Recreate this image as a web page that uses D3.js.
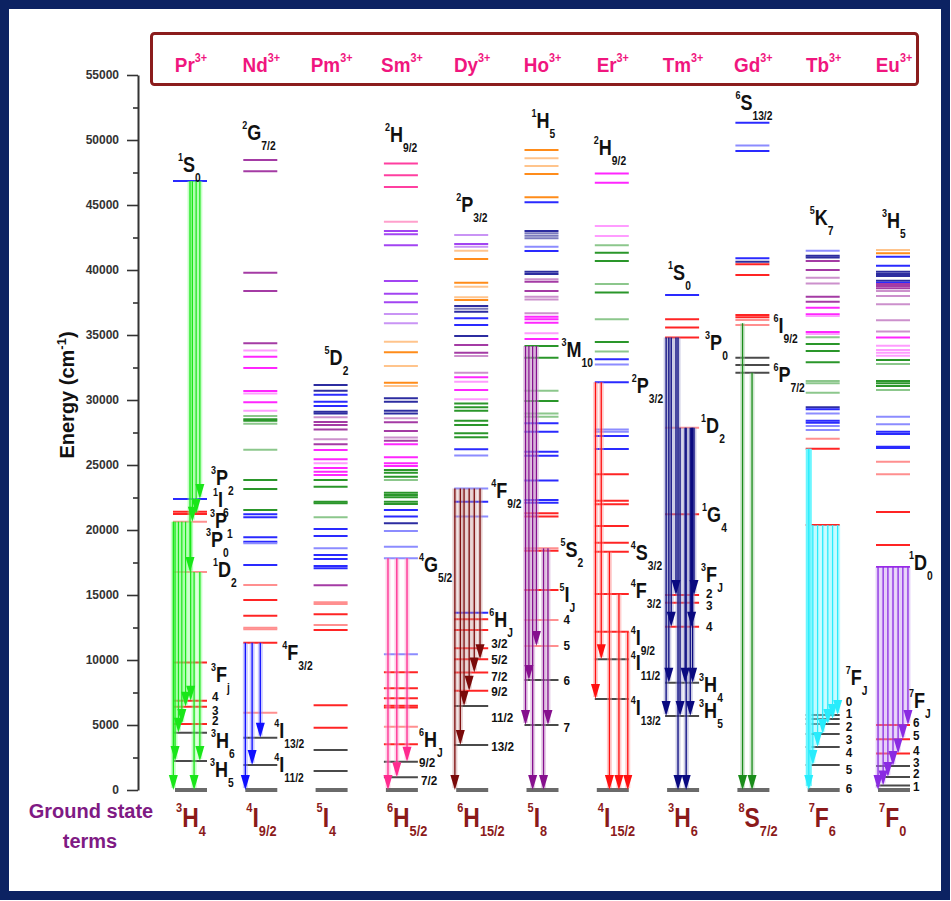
<!DOCTYPE html>
<html><head><meta charset="utf-8">
<script src="https://cdn.jsdelivr.net/npm/d3@7"></script>
<style>
html,body{margin:0;padding:0;background:#fff;}
svg{display:block;}
text{font-family:"Liberation Sans",Arial,sans-serif;font-weight:bold;}
</style></head><body>
<svg id="chart" width="951" height="901"></svg>
<script>
// ---- data ----
const ions = ["Pr","Nd","Pm","Sm","Dy","Ho","Er","Tm","Gd","Tb","Eu"];
const yTicks = d3.range(0, 55001, 5000);
const yMinorTicks = d3.range(2500, 55000, 5000);
const groundTerms = [["3","H","4"],["4","I","9/2"],["5","I","4"],["6","H","5/2"],["6","H","15/2"],["5","I","8"],["4","I","15/2"],["3","H","6"],["8","S","7/2"],["7","F","6"],["7","F","0"]];

// energy levels [cm-1, colour key]
const levelsPr = [[46850,"b"],[22380,"b"],[21400,"r"],[21230,"r"],[20640,"rl"],[16770,"rl"],[9800,"r"],[6870,"r"],[6410,"r"],[5080,"r"],[4410,"k"],[2230,"k"]];
const levelsNd = [[48460,"d"],[47590,"d"],[39790,"d"],[38380,"d"],[34360,"d"],[33800,"ml"],[33330,"m"],[32460,"m"],[30700,"m"],[30500,"ml"],[29820,"m"],[29180,"ml"],[28770,"gl"],[28510,"g"],[28400,"g"],[28180,"gl"],[26180,"gl"],[23850,"g"],[23150,"g"],[21540,"g"],[21210,"b"],[20980,"b"],[19440,"b"],[19100,"b"],[18980,"bl"],[17310,"b"],[15770,"rl"],[14620,"r"],[13410,"r"],[12490,"rl"],[12360,"rl"],[11330,"r"],[5950,"rl"],[4020,"k"],[1920,"k"]];
const levelsPm = [[31150,"n"],[30720,"n"],[30410,"b"],[29870,"b"],[29540,"b"],[29100,"n"],[28970,"n"],[28670,"dl"],[28310,"d"],[28080,"d"],[27740,"d"],[26980,"dl"],[26590,"d"],[26150,"m"],[25440,"m"],[25130,"ml"],[24770,"m"],[24490,"m"],[24230,"m"],[23850,"g"],[23330,"g"],[22180,"g"],[22050,"g"],[20980,"gl"],[20080,"b"],[19540,"b"],[18590,"bl"],[18080,"b"],[17770,"b"],[17230,"b"],[17050,"b"],[15750,"d"],[14450,"rl"],[14300,"rl"],[13520,"r"],[12690,"rl"],[12310,"r"],[6510,"r"],[4790,"r"],[3080,"k"],[1460,"k"]];
const levelsSm = [[48200,"pk"],[47280,"pk"],[46380,"pk"],[43720,"pkl"],[43000,"p"],[42750,"p"],[41900,"p"],[39150,"p"],[38180,"p"],[37510,"p"],[36620,"pl"],[35900,"pl"],[34490,"ol"],[33670,"o"],[32620,"ol"],[31330,"o"],[31080,"ol"],[30130,"n"],[29870,"n"],[29180,"n"],[28970,"n"],[28590,"dl"],[28280,"d"],[27620,"d"],[27110,"dl"],[26870,"d"],[26590,"m"],[25590,"m"],[25130,"m"],[24920,"m"],[24620,"g"],[24400,"g"],[24100,"g"],[23850,"gl"],[22870,"g"],[22690,"g"],[22510,"g"],[22180,"g"],[22000,"g"],[21540,"b"],[21030,"b"],[20510,"n"],[19920,"bl"],[18720,"bl"],[17820,"bl"],[10440,"bl"],[9050,"r"],[7820,"r"],[7050,"r"],[6480,"r"],[6350,"r"],[4870,"rl"],[3510,"r"],[2180,"k"],[980,"k"]];
const levelsDy = [[42690,"pl"],[42000,"p"],[41790,"pl"],[41480,"ol"],[40850,"o"],[39020,"o"],[38720,"ol"],[37900,"ol"],[37690,"o"],[37230,"n"],[37020,"nl"],[36790,"n"],[36280,"b"],[35770,"b"],[34920,"n"],[34230,"d"],[33640,"d"],[33380,"dl"],[32100,"dl"],[31750,"m"],[31410,"ml"],[30770,"m"],[30050,"ml"],[29740,"g"],[29440,"g"],[29180,"g"],[28410,"g"],[28080,"g"],[27440,"g"],[27130,"g"],[26210,"b"],[25740,"bl"],[23200,"bl"],[22180,"b"],[21030,"bl"],[13640,"b"],[13130,"r"],[12310,"r"],[10900,"r"],[10050,"r"],[9030,"r"],[7640,"r"],[6460,"k"],[3460,"k"]];
const levelsHo = [[49230,"o"],[48590,"ol"],[48000,"ol"],[47380,"o"],[45590,"o"],[45210,"b"],[43000,"n"],[42820,"nl"],[42640,"nl"],[42440,"nl"],[41790,"bl"],[41460,"b"],[39870,"n"],[39690,"n"],[39280,"dl"],[39100,"d"],[38380,"d"],[37950,"dl"],[37740,"dl"],[36670,"dl"],[36410,"m"],[36210,"m"],[35950,"m"],[35130,"ml"],[34690,"m"],[34150,"g"],[33250,"g"],[30720,"gl"],[29920,"g"],[28970,"gl"],[28720,"gl"],[28210,"b"],[27560,"b"],[26020,"b"],[25720,"b"],[23800,"b"],[22310,"b"],[22100,"b"],[21280,"r"],[21030,"r"],[18590,"rl"],[18410,"r"],[15380,"r"],[13080,"rl"],[11080,"rl"],[8460,"k"],[5000,"k"]];
const levelsEr = [[47430,"m"],[46720,"m"],[43380,"ml"],[42610,"ml"],[41900,"gl"],[41330,"g"],[40690,"g"],[38920,"gl"],[38260,"g"],[36210,"gl"],[34460,"g"],[33740,"gl"],[33130,"b"],[32740,"bl"],[31360,"b"],[27740,"bl"],[27560,"bl"],[27230,"b"],[26230,"b"],[24280,"r"],[22250,"r"],[21980,"r"],[20310,"r"],[19020,"r"],[18330,"r"],[15080,"r"],[12180,"r"],[10050,"k"],[7000,"k"]];
const levelsTm = [[38080,"b"],[36210,"r"],[35570,"r"],[34800,"r"],[27870,"rl"],[21210,"r"],[15000,"r"],[14410,"r"],[12560,"r"],[8250,"k"],[5690,"k"]];
const levelsGd = [[51330,"b"],[49570,"bl"],[49150,"b"],[40900,"b"],[40640,"n"],[40440,"r"],[39620,"r"],[36540,"r"],[36360,"r"],[36150,"rl"],[35770,"rl"],[33250,"k"],[32690,"k"],[32100,"k"]];
const levelsTb = [[41490,"bl"],[41100,"n"],[40970,"n"],[40690,"d"],[40000,"d"],[39410,"dl"],[38970,"dl"],[37950,"d"],[37560,"d"],[37100,"m"],[36590,"m"],[36460,"ml"],[35230,"m"],[35080,"ml"],[34820,"gl"],[34310,"g"],[33770,"g"],[32900,"g"],[31460,"gl"],[31280,"gl"],[30560,"gl"],[29440,"n"],[29280,"b"],[28970,"bl"],[28410,"b"],[28250,"b"],[28000,"bl"],[27690,"bl"],[27020,"rl"],[26250,"r"],[20380,"r"],[5770,"k"],[5460,"k"],[5080,"k"],[4310,"k"],[3310,"k"],[1920,"k"]];
const levelsEu = [[41540,"ol"],[41280,"o"],[41020,"b"],[40330,"b"],[39870,"n"],[39690,"n"],[39540,"n"],[39180,"n"],[39020,"b"],[38920,"d"],[38770,"d"],[38590,"d"],[38380,"dl"],[38000,"dl"],[37360,"dl"],[36130,"dl"],[35260,"dl"],[34800,"m"],[34180,"ml"],[33850,"ml"],[33640,"ml"],[33410,"ml"],[33080,"g"],[32770,"gl"],[31460,"g"],[31280,"g"],[31080,"g"],[30770,"gl"],[28720,"bl"],[28130,"bl"],[27560,"b"],[27380,"b"],[26410,"b"],[26300,"b"],[25250,"rl"],[24280,"rl"],[21380,"r"],[18850,"r"],[17150,"v"],[5000,"r"],[3900,"r"],[2800,"r"],[1850,"k"],[1000,"k"],[350,"k"]];

// transitions [upper level, lower level, position across the column 0..1]
const arrowsPr = [[46850,22380,0.79],[46850,21230,0.68],[46850,20640,0.57],[46850,16770,0.5],[20640,0,0.01],[20640,2230,0.06],[20640,4410,0.16],[20640,5080,0.26],[20640,6410,0.37],[20640,6870,0.52],[16770,0,0.62],[16770,2230,0.79]];
const arrowsNd = [[11330,0,0.06],[11330,1920,0.26],[11330,4020,0.5]];
const arrowsSm = [[17820,0,0.12],[17820,980,0.38],[17820,2180,0.68]];
const arrowsDy = [[23200,0,0.02],[23200,3460,0.18],[23200,6460,0.29],[23200,7640,0.44],[23200,9030,0.59],[23200,10050,0.76]];
const arrowsHo = [[34150,5000,0.03],[34150,8460,0.13],[34150,0,0.24],[34150,11080,0.35],[18590,0,0.56],[18590,5000,0.69]];
const arrowsEr = [[31360,7000,0.02],[31360,10050,0.19],[18330,0,0.43],[15080,0,0.71],[12180,0,0.97]];
const arrowsTm = [[34800,5690,0.03],[34800,8250,0.11],[34800,12560,0.18],[34800,15000,0.32],[34800,0,0.38],[27870,5690,0.44],[27870,8250,0.59],[27870,0,0.62],[27870,5690,0.74],[27870,12560,0.78],[27870,8250,0.81],[27870,15000,0.85]];
const arrowsGd = [[35900,0,0.21],[32100,0,0.49]];
const arrowsTb = [[26250,0,0.09],[20380,1920,0.21],[20380,3310,0.35],[20380,4310,0.5],[20380,5080,0.65],[20380,5460,0.79],[20380,5770,0.94]];
const arrowsEu = [[17150,0,0.06],[17150,350,0.21],[17150,1000,0.35],[17150,1850,0.5],[17150,2800,0.65],[17150,3900,0.79],[17150,5000,0.94]];
// broad emission band of Tb3+ from 5D3 [upper, lower, position]
const bandTb = [[26250,0,0.09]];

// term labels [ion, multiplicity, L, J, anchor energy, dx from column edge, dy]
const termLabels = [
 ["Pr","1","S","0",46850,-29,-9],["Pr","3","P","2",22380,4,-14],["Pr","1","I","6",22380,6,8],["Pr","3","P","1",21230,3,14],["Pr","3","P","0",20640,-1,25],["Pr","1","D","2",16770,6,5],["Pr","3","F","j",9800,4,19],["Pr","3","H","6",4410,4,15],["Pr","3","H","5",2230,3,16],
 ["Nd","2","G","7/2",48460,-35,-20],["Nd","4","F","3/2",11330,5,17],["Nd","4","I","13/2",4020,-3,0],["Nd","4","I","11/2",1920,-3,7],
 ["Pm","5","D","2",31150,-23,-20],
 ["Sm","2","H","9/2",48200,-33,-21],["Sm","4","G","5/2",17820,1,14],["Sm","6","H","J",4870,1,20],
 ["Dy","2","P","3/2",42690,-32,-23],["Dy","4","F","9/2",23200,3,10],["Dy","6","H","J",13640,1,14],
 ["Ho","1","H","5",49230,-27,-22],["Ho","3","M","10",34150,3,11],["Ho","5","S","2",18590,2,9],["Ho","5","I","J",15380,1,12],
 ["Er","2","H","9/2",47430,-35,-18],["Er","2","P","3/2",31360,3,11],["Er","4","S","3/2",18330,2,8],["Er","4","F","3/2",15080,2,4],["Er","4","I","9/2",12180,2,13],["Er","4","I","11/2",10050,2,11],["Er","4","I","13/2",7000,2,16],
 ["Tm","1","S","0",38080,-31,-15],["Tm","3","P","0",34800,6,12],["Tm","1","D","2",27870,2,5],["Tm","1","G","4",21210,3,8],["Tm","3","F","J",15000,2,-13],["Tm","3","H","4",8250,0,9],["Tm","3","H","5",5690,0,2],
 ["Gd","6","S","13/2",51330,-34,-13],["Gd","6","I","9/2",36360,4,16],["Gd","6","P","7/2",32100,4,9],
 ["Tb","5","K","7",41490,-30,-26],["Tb","7","F","J",5770,6,-30],
 ["Eu","3","H","5",41540,-28,-22],["Eu","1","D","0",17150,-1,3],["Eu","7","F","J",5000,-1,-17]
];
// J-value labels [ion, text, anchor energy, dx, dy]
const jLabels = [
 ["Pr","4",6870,5,0],["Pr","3",6410,5,8],["Pr","2",5080,5,1],
 ["Sm","9/2",2180,1,5],["Sm","7/2",980,3,8],
 ["Dy","3/2",10900,3,0],["Dy","5/2",10050,3,5],["Dy","7/2",9030,3,8],["Dy","9/2",7640,3,5],["Dy","11/2",6460,3,16],["Dy","13/2",3460,3,6],
 ["Ho","4",13080,5,4],["Ho","5",11080,5,4],["Ho","6",8460,5,5],["Ho","7",5000,5,7],
 ["Tm","2",15000,7,3],["Tm","3",14410,7,7],["Tm","4",12560,7,4],
 ["Tb","0",5770,6,-9],["Tb","1",5460,6,-1],["Tb","2",5080,6,7],["Tb","3",4310,6,10],["Tb","4",3310,6,10],["Tb","5",1920,6,9],["Tb","6",0,6,3],
 ["Eu","6",5000,3,2],["Eu","5",3900,3,1],["Eu","4",2800,3,1],["Eu","3",1850,3,1],["Eu","2",1000,3,1],["Eu","1",350,3,6]
];

// ---- styles ----
const levelColor = {k:"#4a4a4a",r:"#ff2424",rl:"#ff8f8f",b:"#2a2aff",bl:"#8c8cff",n:"#2c2ca0",nl:"#7a7abd",g:"#2a962a",gl:"#8cc78c",m:"#ff26ff",ml:"#ff9cff",p:"#a244f2",pl:"#c994f5",d:"#a43ba4",dl:"#cc90cc",o:"#ff8c1a",ol:"#ffc48c",pk:"#ff3fa0",pkl:"#ffa0cc",v:"#9a28e8"};
const arrowColor = {Pr:["#19e619","#85ff85"],Nd:["#1010ff","#9090ff"],Sm:["#ff2a8f","#ffa0cf"],Dy:["#7a0a0a","#c89494"],Ho:["#86108e","#c894cc"],Er:["#ff1010","#ff9494"],Tm:["#0a0a80","#9494c8"],Gd:["#1a8c1a","#9acd9a"],Tb:["#28ecfc","#80f8ff"],Eu:["#8a2be2","#c89cf2"]};
const levelSets = {Pr:levelsPr,Nd:levelsNd,Pm:levelsPm,Sm:levelsSm,Dy:levelsDy,Ho:levelsHo,Er:levelsEr,Tm:levelsTm,Gd:levelsGd,Tb:levelsTb,Eu:levelsEu};
const arrowSets = {Pr:arrowsPr,Nd:arrowsNd,Sm:arrowsSm,Dy:arrowsDy,Ho:arrowsHo,Er:arrowsEr,Tm:arrowsTm,Gd:arrowsGd,Tb:arrowsTb,Eu:arrowsEu};

// ---- layout ----
const svg = d3.select("#chart");
const colW = 34;
const x = d3.scaleBand().domain(ions).range([173, 173 + 70.3 * ions.length]);
const y = d3.scaleLinear().domain([0, 55000]).range([790, 75]);
const axisX = 138;

// outer frame
svg.append("rect").attr("x",4.5).attr("y",4.5).attr("width",941).attr("height",891)
  .attr("fill","#fff").attr("stroke","#0c2262").attr("stroke-width",9);

// header box with ion names
svg.append("rect").attr("x",151.5).attr("y",33.5).attr("width",766).attr("height",51).attr("rx",3)
  .attr("fill","none").attr("stroke","#8b1c1c").attr("stroke-width",3);
ions.forEach(ion => {
  const t = svg.append("text").attr("transform",`translate(${x(ion) + colW/2 + 1},72) scale(0.9,1)`)
    .attr("text-anchor","middle").attr("fill","#f0167e").attr("font-size",21);
  t.append("tspan").text(ion);
  t.append("tspan").attr("font-size",12).attr("dy",-10).text("3+");
});

// y axis
const gAxis = svg.append("g").attr("transform",`translate(${axisX},0)`);
gAxis.call(d3.axisLeft(y).tickValues(yTicks).tickSize(11).tickSizeOuter(0).tickPadding(8).tickFormat(d3.format("d")));
const gMinor = gAxis.append("g").call(d3.axisLeft(y).tickValues(yMinorTicks).tickSize(5).tickFormat(""));
gMinor.select("path.domain").remove();
gAxis.selectAll("path.domain").attr("stroke","#333").attr("stroke-width",2);
gAxis.selectAll(".tick line").attr("stroke","#333").attr("stroke-width",1.6);
gAxis.selectAll(".tick text").attr("fill","#333").attr("font-size",12)
  .style("font-family","'Liberation Sans',Arial,sans-serif").style("font-weight","bold");

// axis title
const yt = svg.append("text").attr("transform","translate(74,395) rotate(-90)")
  .attr("text-anchor","middle").attr("fill","#111").attr("font-size",20);
yt.append("tspan").text("Energy (cm");
yt.append("tspan").attr("font-size",13).attr("dy",-8).text("-1");
yt.append("tspan").attr("dy",8).text(")");

// "Ground state terms"
const gst = svg.append("text").attr("text-anchor","middle").attr("fill","#7f1a84").attr("font-size",20);
gst.append("tspan").attr("x",91).attr("y",818).text("Ground state");
gst.append("tspan").attr("x",90).attr("y",848).text("terms");

// energy levels
const gLev = svg.append("g");
ions.forEach(ion => {
  const x0 = x(ion);
  gLev.selectAll(null).data(levelSets[ion]).enter().append("line")
    .attr("x1", x0).attr("x2", x0 + colW)
    .attr("y1", d => y(d[0])).attr("y2", d => y(d[0]))
    .attr("stroke", d => levelColor[d[1]]).attr("stroke-width", 2);
  // ground level
  gLev.append("line").attr("x1", x0 + 2).attr("x2", x0 + colW).attr("y1", y(0)).attr("y2", y(0))
    .attr("stroke","#6a6a6a").attr("stroke-width",4);
});

// Tb3+ broad band
bandTb.forEach(b => {
  const bx = x("Tb") + b[2] * colW;
  svg.append("line").attr("x1",bx).attr("x2",bx).attr("y1",y(b[0])).attr("y2",y(b[1]) - 4)
    .attr("stroke","#5ff6ff").attr("stroke-width",6);
});

// transitions
const gArr = svg.append("g");
ions.forEach(ion => {
  const set = arrowSets[ion];
  if (!set) return;
  const [dark, light] = arrowColor[ion];
  const x0 = x(ion);
  const headH = 15, headW = 9;
  set.forEach(a => {
    const ax = x0 + a[2] * colW, y1 = y(a[0]), y2 = y(a[1]);
    gArr.append("line").attr("x1",ax).attr("x2",ax).attr("y1",y1).attr("y2",y2-2)
      .attr("stroke",light).attr("stroke-width",5).attr("opacity",0.45);
  });
  set.forEach(a => {
    const ax = x0 + a[2] * colW, y1 = y(a[0]), y2 = y(a[1]);
    gArr.append("line").attr("x1",ax).attr("x2",ax).attr("y1",y1).attr("y2",y2-headH+2)
      .attr("stroke",dark).attr("stroke-width",1.3);
    gArr.append("path").attr("d",`M${ax-headW/2},${y2-headH}L${ax+headW/2},${y2-headH}L${ax},${y2}Z`)
      .attr("fill",dark);
  });
});

// term label helper: multiplicity superscript, letter, J subscript (condensed)
function term(g, tx, ty, sup, main, sub, size, supSize, subSize, supDy, subDy, color, sx) {
  const t = g.append("text").attr("transform",`translate(${tx},${ty}) scale(${sx},1)`)
    .attr("fill",color).attr("font-size",size);
  t.append("tspan").attr("font-size",supSize).attr("dy",supDy).text(sup);
  t.append("tspan").attr("dy",-supDy).text(main);
  if (sub) t.append("tspan").attr("font-size",subSize).attr("dy",subDy).text(sub);
  return t;
}
const gLab = svg.append("g");
termLabels.forEach(l => {
  const [ion, sup, main, sub, E, dx, dy] = l;
  term(gLab, x(ion) + colW + dx, y(E) + dy, sup, main, sub, 22, 11, 12.5, -11, 10, "#111", 0.82);
});
jLabels.forEach(l => {
  const [ion, txt, E, dx, dy] = l;
  gLab.append("text").attr("transform",`translate(${x(ion) + colW + dx},${y(E) + dy}) scale(0.9,1)`)
    .attr("fill","#111").attr("font-size",13).text(txt);
});

// ground-state terms under each column
ions.forEach((ion, i) => {
  const [sup, main, sub] = groundTerms[i];
  term(gLab, x(ion) + 3, 827, sup, main, sub, 27, 13, 15, -15, 9, "#8b1a1a", 0.85);
});
</script>
</body></html>
